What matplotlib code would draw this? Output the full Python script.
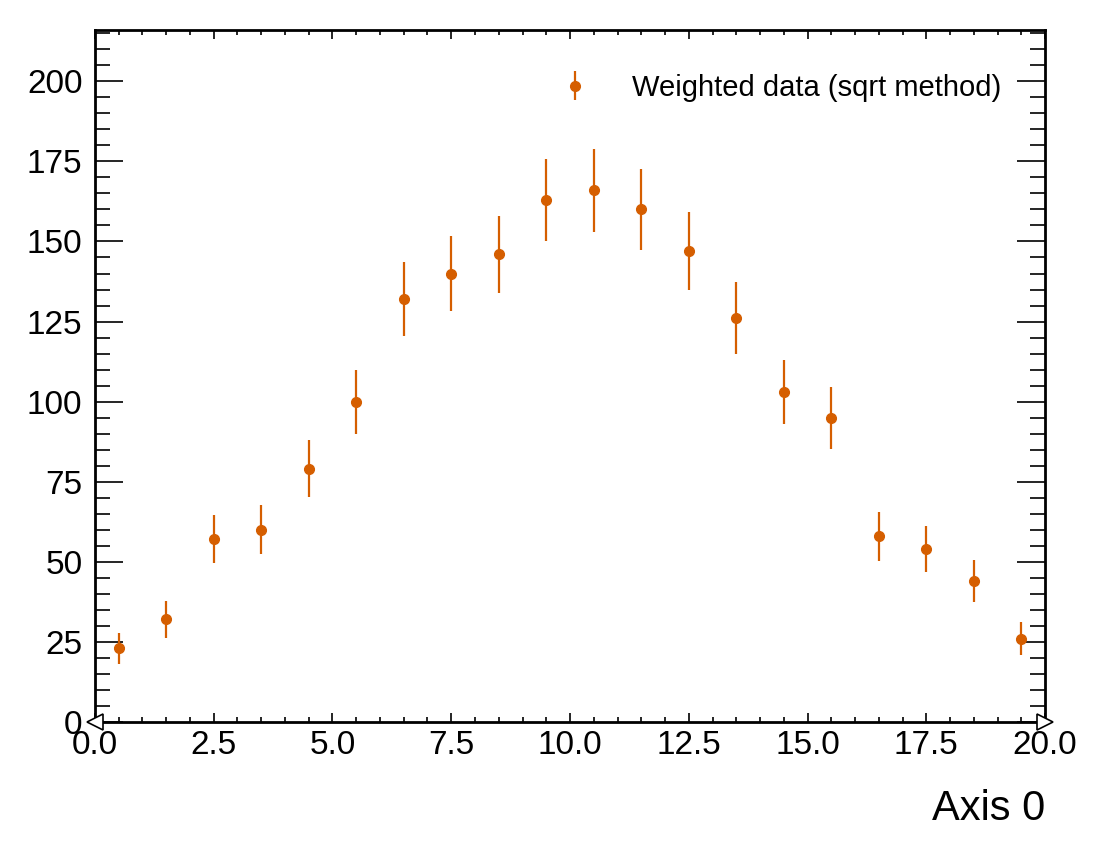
import numpy as np
import matplotlib
matplotlib.use("Agg")
import matplotlib.pyplot as plt
from matplotlib.ticker import MultipleLocator

plt.rcParams['font.family'] = ['Liberation Sans', 'DejaVu Sans']

bin_edges = list(np.arange(0, 21, 1.0))
counts = [23, 32, 57, 60, 79, 100, 132, 140, 146, 163, 166, 160, 147, 126, 103, 95, 58, 54, 44, 26]
errors = [4.8, 5.7, 7.5, 7.7, 8.9, 10.0, 11.5, 11.8, 12.1, 12.8, 12.9, 12.6, 12.1, 11.2, 10.1, 9.7, 7.6, 7.3, 6.6, 5.1]
label = "Weighted data (sqrt method)"
color = "#d55e00"

centers = [(bin_edges[i] + bin_edges[i + 1]) / 2 for i in range(len(counts))]

fig = plt.figure(figsize=(11.08, 8.58), dpi=100)
ax = fig.add_axes([0.0857, 0.1585, 0.9432 - 0.0857, 0.965 - 0.1585])

ax.errorbar(centers, counts, yerr=errors, fmt='o', color=color, ms=7, elinewidth=1.6,
            capsize=0, label=label)

ax.set_xlim(0, 20)
ax.set_ylim(0, 216)

ax.xaxis.set_major_locator(MultipleLocator(2.5))
ax.xaxis.set_minor_locator(MultipleLocator(0.5))
ax.yaxis.set_major_locator(MultipleLocator(25))
ax.yaxis.set_minor_locator(MultipleLocator(5))

ax.tick_params(axis='both', which='both', direction='in', top=True, right=True, width=1.2)
ax.tick_params(axis='x', which='major', length=6.5, labelsize=24, pad=6)
ax.tick_params(axis='x', which='minor', length=3.6)
ax.tick_params(axis='y', which='major', length=20, labelsize=24, pad=9)
ax.tick_params(axis='y', which='minor', length=10.8)
for s in ax.spines.values():
    s.set_linewidth(2)

# flow hint markers
ax.plot([0], [0], marker='<', ms=11, mfc='white', mec='black', mew=1.2, clip_on=False,
        transform=ax.get_xaxis_transform(), zorder=5, linestyle='none')
ax.plot([20], [0], marker='>', ms=11, mfc='white', mec='black', mew=1.2, clip_on=False,
        transform=ax.get_xaxis_transform(), zorder=5, linestyle='none')

ax.set_xlabel("Axis 0", fontsize=30, loc='right', labelpad=20)

ax.legend(loc='upper right', fontsize=21, frameon=False, handletextpad=0.95,
          borderaxespad=1.1)

fig.savefig("out.png", dpi=100)
